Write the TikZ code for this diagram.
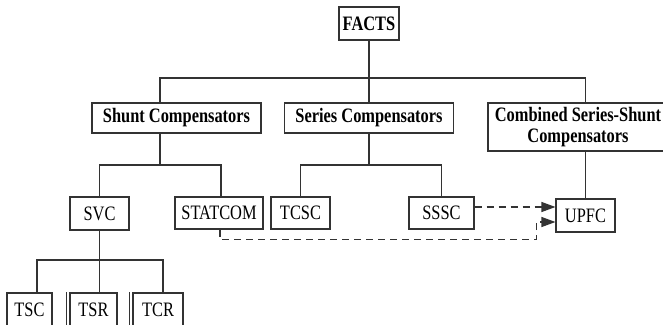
\documentclass[tikz,border=0pt]{standalone}
\usepackage{fontspec}
\setmainfont[FakeStretch=0.8]{Liberation Serif}
\usetikzlibrary{calc,arrows.meta}

\begin{document}
\begin{tikzpicture}[x=1pt,y=-1pt,>={Triangle[length=14pt,width=10pt]},
	box/.style={draw=black!80,line width=1.1pt,inner sep=0pt,align=center,font=\fontsize{20.5}{21}\selectfont},
	head/.style={box,font=\fontsize{20.5}{21}\selectfont\bfseries},
	link/.style={draw=black!80,line width=1.1pt},
	dasharrow/.style={link,dash pattern=on 7pt off 5pt,->}]
	
	\useasboundingbox (0,0) rectangle (663,324);
	\clip (0,0) rectangle (663,324);
	
%	top level
	\node[head,minimum width=60pt,minimum height=33pt] (facts) at (369,23.5) {FACTS};
	\node[head,minimum width=169pt,minimum height=30pt] (shunt) at (176.5,118) {Shunt Compensators};
	\node[head,minimum width=169pt,minimum height=30pt] (series) at (369,118) {Series Compensators};
	\node[head,minimum width=180pt,minimum height=48pt] (combined) at (578,127) {Combined Series-Shunt\\Compensators};
	
%	devices
	\node[box,minimum width=59pt,minimum height=33pt] (svc) at (99.5,213.5) {SVC};
	\node[box,minimum width=88pt,minimum height=32pt] (statcom) at (219,213) {STATCOM};
	\node[box,minimum width=59pt,minimum height=32pt] (tcsc) at (300.5,213) {TCSC};
	\node[box,minimum width=65pt,minimum height=32pt] (sssc) at (441.5,213) {SSSC};
	\node[box,minimum width=59pt,minimum height=33pt] (upfc) at (585.5,215.5) {UPFC};
	
%	svc types
	\node[box,minimum width=45pt,minimum height=33pt] (tsc) at (29.5,309.5) {TSC};
	\node[box,minimum width=47pt,minimum height=33pt] (tsr) at (93.5,309.5) {TSR};
	\node[box,minimum width=50pt,minimum height=33pt] (tcr) at (158,309.5) {TCR};
	\draw[link] ([xshift=-3pt]tsr.north west) -- ([xshift=-3pt]tsr.south west);
	\draw[link] ([xshift=-3pt]tcr.north west) -- ([xshift=-3pt]tcr.south west);
	
%	tree lines
	\coordinate (b0) at (369,78);
	\draw[link] (facts.south) -- (b0);
	\draw[link] (series.north) -- (b0);
	\draw[link] ([xshift=-16.5pt]shunt.north) |- (b0) -| (upfc.north |- combined.north);
	
	\coordinate (b1) at (160,165);
	\draw[link] ([xshift=-16.5pt]shunt.south) -- (b1);
	\draw[link] (svc.north) |- (b1) -| ([xshift=2pt]statcom.north);
	
	\coordinate (b2) at (369,165);
	\draw[link] (series.south) -- (b2);
	\draw[link] (tcsc.north) |- (b2) -| (sssc.north);
	
	\draw[link] (upfc.north |- combined.south) -- (upfc.north);
	
	\coordinate (b3) at (99.5,260);
	\draw[link] (svc.south) -- (b3);
	\draw[link] (b3) -- (b3 |- tsr.north);
	\draw[link] ([xshift=7.5pt]tsc.north) |- (b3) -| ([xshift=5pt]tcr.north);
	
%	dashed arrows to upfc
	\draw[dasharrow] ([yshift=6pt]sssc.east) coordinate (s1) -- (s1 -| upfc.west);
	\draw[dasharrow] ([xshift=1pt]statcom.south) -- ++(0,10) -| ([xshift=-19pt,yshift=-6.5pt]upfc.west) -- ([yshift=-6.5pt]upfc.west);
	
\end{tikzpicture}
\end{document}
